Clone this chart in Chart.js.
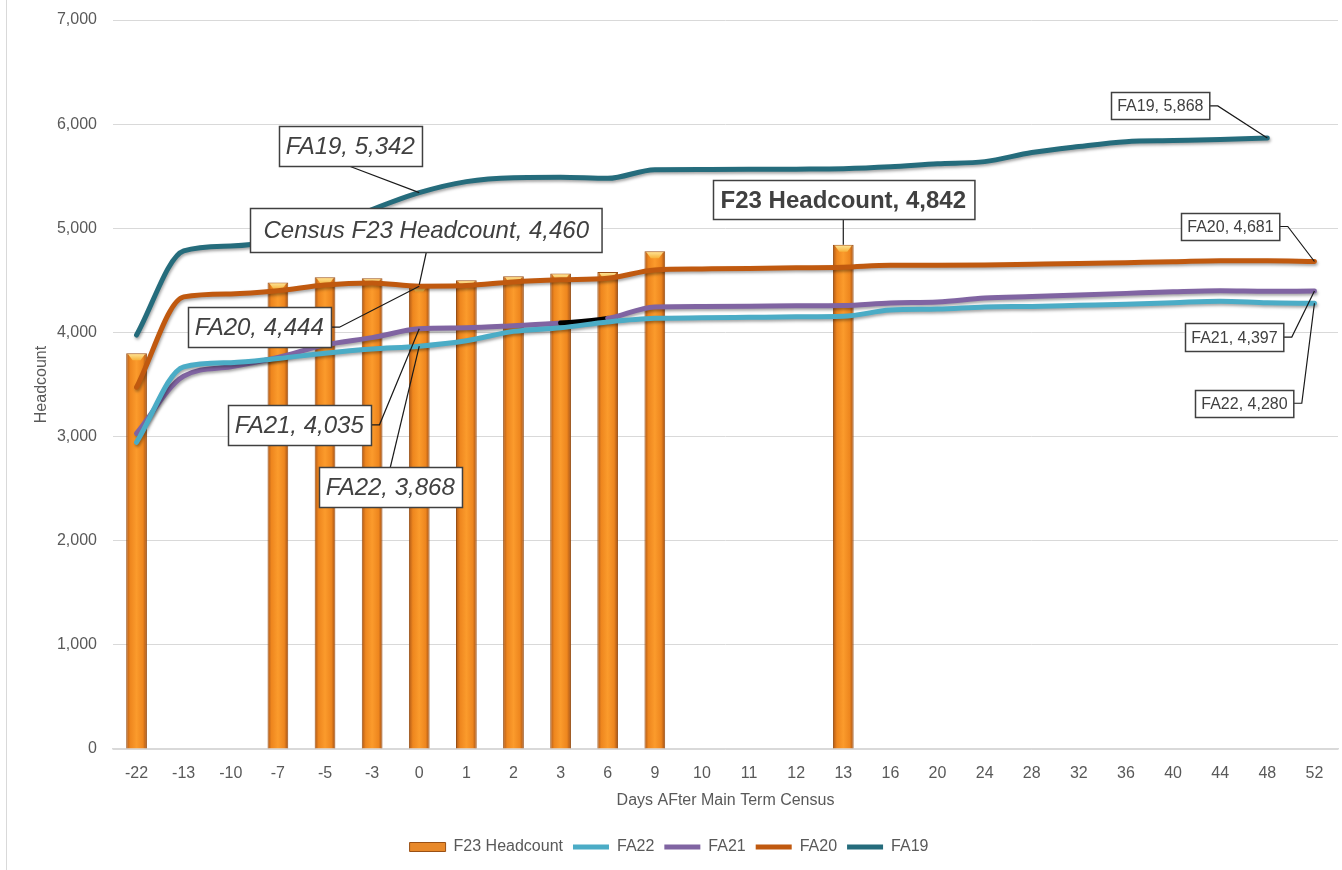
<!DOCTYPE html>
<html><head><meta charset="utf-8">
<script src="https://cdn.jsdelivr.net/npm/chart.js@4.4.0/dist/chart.umd.min.js"></script>
<style>html,body{margin:0;padding:0;background:#fff}canvas{display:block}</style>
</head><body>
<canvas id="c" width="1342" height="870"></canvas>
<script>
// ---------- data ----------
const categories = ['-22','-13','-10','-7','-5','-3','0','1','2','3','6','9','10','11','12','13','16','20','24','28','32','36','40','44','48','52'];
const f23Headcount = [3800,null,null,4480,4530,4520,4460,4500,4540,4565,4580,4780,null,null,null,4842,null,null,null,null,null,null,null,null,null,null];
const fa22 = [2945,3670,3710,3750,3800,3840,3868,3920,4010,4045,4100,4135,4140,4145,4150,4155,4215,4225,4245,4250,4260,4270,4285,4300,4285,4280];
const fa21 = [3030,3580,3670,3760,3880,3950,4035,4045,4065,4090,4135,4245,4250,4252,4255,4258,4283,4292,4330,4345,4360,4375,4390,4400,4395,4397];
const fa20 = [3474,4341,4370,4400,4456,4475,4444,4450,4485,4505,4520,4600,4610,4615,4620,4625,4645,4645,4648,4655,4662,4670,4678,4688,4688,4681];
const fa19 = [3975,4783,4830,4880,4990,5180,5342,5448,5486,5490,5480,5563,5565,5566,5568,5572,5590,5620,5640,5727,5785,5832,5842,5852,5868,null];
const yTickValues = [0,1000,2000,3000,4000,5000,6000,7000];

// ---------- styling ----------
const FONT = "'Liberation Sans', Arial, sans-serif";
const TXT = '#595959';
const COLORS = { FA22:'#4bacc6', FA21:'#8064a2', FA20:'#c0590f', FA19:'#256c7c' };

// callout boxes (offsets relative to the data point)
const callouts = [
  {series:'FA19', cat:'0', dx:-69, dy:-47, font:'italic 24px', h:40, padX:7, leader:'bottom'},
  {series:'F23 Headcount', cat:'0', prefix:'Census ', dx:7, dy:-55, font:'italic 24px', h:44, padX:13, leader:'bottom'},
  {series:'FA20', cat:'0', dx:-160, dy:41, font:'italic 24px', h:40, padX:7, leader:'right'},
  {series:'FA21', cat:'0', dx:-120, dy:96, font:'italic 24px', h:40, padX:7, leader:'right'},
  {series:'FA22', cat:'0', dx:-29, dy:141, font:'italic 24px', h:40, padX:7, leader:'top'},
  {series:'F23 Headcount', cat:'13', dx:0, dy:-45, font:'bold 24px', h:39, padX:8, leader:'bottom'},
  {series:'FA19', cat:'48', dx:-107, dy:-32, font:'16px', h:27, padX:6, leader:'right'},
  {series:'FA20', cat:'52', dx:-84, dy:-35, font:'16px', h:27, padX:6, leader:'right'},
  {series:'FA21', cat:'52', dx:-80, dy:46, font:'16px', h:28, padX:6, leader:'right'},
  {series:'FA22', cat:'52', dx:-70, dy:100, font:'16px', h:27, padX:6, leader:'right'}
];

function barFill(c) {
  const chart = c.chart;
  if (!chart.chartArea || c.type !== 'data') return '#f7941d';
  const cx = chart.scales.x.getPixelForValue(c.dataIndex);
  const g = chart.ctx.createLinearGradient(cx - 10, 0, cx + 10, 0);
  g.addColorStop(0, '#b45c18');
  g.addColorStop(0.18, '#ee861e');
  g.addColorStop(0.5, '#fb9b2c');
  g.addColorStop(0.82, '#ee861e');
  g.addColorStop(1, '#a85416');
  return g;
}

const decorPlugin = {
  id: 'decor',
  beforeDraw(chart) {
    const ctx = chart.ctx;
    ctx.save();
    ctx.strokeStyle = '#d9d9d9';
    ctx.lineWidth = 1;
    ctx.beginPath(); ctx.moveTo(6.5, 0); ctx.lineTo(6.5, 870); ctx.stroke();
    ctx.restore();
  },
  beforeDatasetDraw(chart, args) {
    const ds = chart.data.datasets[args.index];
    const ctx = chart.ctx;
    ctx.save();
    if (ds.type === 'line') {
      ctx.shadowColor = 'rgba(0,0,0,0.35)';
      ctx.shadowBlur = 3; ctx.shadowOffsetX = 1; ctx.shadowOffsetY = 2;
    }
  },
  afterDatasetDraw(chart, args) {
    const ctx = chart.ctx;
    ctx.restore();
    const ds = chart.data.datasets[args.index];
    if (ds.type === 'line') return;
    // light cap on top of each bar
    args.meta.data.forEach((el, i) => {
      if (ds.data[i] == null) return;
      const w = el.width, x = el.x, y = el.y;
      ctx.save();
      const g = ctx.createLinearGradient(0, y, 0, y + 7);
      g.addColorStop(0, '#fde9a0'); g.addColorStop(1, '#f7b23a');
      ctx.fillStyle = g;
      ctx.beginPath();
      ctx.moveTo(x - w/2 + 2, y + 1);
      ctx.lineTo(x + w/2 - 2, y + 1);
      ctx.lineTo(x + 4, y + 7);
      ctx.lineTo(x - 4, y + 7);
      ctx.closePath(); ctx.fill();
      ctx.restore();
    });
  },
  afterDatasetsDraw(chart) {
    const ctx = chart.ctx;
    callouts.forEach(co => {
      const di = chart.data.datasets.findIndex(d => d.label === co.series);
      const idx = categories.indexOf(co.cat);
      const el = chart.getDatasetMeta(di).data[idx];
      const val = chart.data.datasets[di].data[idx];
      const px = el.x, py = el.y;
      const text = (co.prefix || '') + co.series + ', ' + val.toLocaleString('en-US');
      ctx.save();
      ctx.font = co.font + ' ' + FONT;
      const tw = ctx.measureText(text).width;
      const bw = tw + co.padX * 2, bh = co.h;
      const cx = px + co.dx, cy = py + co.dy;
      const l = Math.round(cx - bw/2) + 0.5, t = Math.round(cy - bh/2) + 0.5;
      ctx.strokeStyle = '#1a1a1a';
      ctx.lineWidth = 1.2;
      ctx.beginPath();
      if (co.leader === 'right') {
        ctx.moveTo(l + bw, cy); ctx.lineTo(l + bw + 8, cy); ctx.lineTo(px, py);
      } else if (co.leader === 'bottom') {
        ctx.moveTo(cx, t + bh); ctx.lineTo(px, py);
      } else {
        ctx.moveTo(cx, t); ctx.lineTo(px, py);
      }
      ctx.stroke();
      ctx.fillStyle = '#ffffff';
      ctx.fillRect(l, t, bw, bh);
      ctx.strokeStyle = '#404040';
      ctx.lineWidth = 1.5;
      ctx.strokeRect(l, t, bw, bh);
      ctx.fillStyle = '#404040';
      ctx.textBaseline = 'middle';
      ctx.textAlign = 'center';
      ctx.fillText(text, cx, t + bh/2 + 1);
      ctx.restore();
    });
  }
};

function lineDs(label, data, order) {
  return {
    type: 'line', label, data, order,
    borderColor: COLORS[label], backgroundColor: COLORS[label],
    borderWidth: 5, pointRadius: 0, pointHoverRadius: 0,
    cubicInterpolationMode: 'monotone', borderJoinStyle: 'round', borderCapStyle: 'round', fill: false
  };
}

const fa21Ds = lineDs('FA21', fa21, 2);
fa21Ds.segment = {
  borderColor: ctx => (ctx.p0DataIndex === categories.indexOf('3') ? '#000000' : undefined)
};

new Chart(document.getElementById('c'), {
  type: 'bar',
  data: {
    labels: categories,
    datasets: [
      { type: 'bar', label: 'F23 Headcount', data: f23Headcount, order: 5,
        backgroundColor: barFill, borderColor: '#9a5014', borderWidth: 1,
        categoryPercentage: 1, barPercentage: 0.44 },
      lineDs('FA22', fa22, 1),
      fa21Ds,
      lineDs('FA20', fa20, 3),
      lineDs('FA19', fa19, 4)
    ]
  },
  options: {
    responsive: false,
    animation: false,
    devicePixelRatio: 1,
    layout: { padding: { top: 20, right: 4, bottom: 5, left: 0 } },
    plugins: {
      tooltip: { enabled: false },
      legend: {
        position: 'bottom',
        labels: {
          font: { family: FONT, size: 16 },
          color: TXT,
          usePointStyle: true,
          pointStyleWidth: 36,
          boxHeight: 9,
          padding: 10,
          generateLabels(chart) {
            return chart.data.datasets.map((d, i) => ({
              text: d.label,
              datasetIndex: i,
              hidden: false,
              fontColor: TXT,
              pointStyle: d.type === 'bar' ? 'rect' : 'line',
              fillStyle: d.type === 'bar' ? '#e8892a' : d.borderColor,
              strokeStyle: d.type === 'bar' ? '#9a5014' : d.borderColor,
              lineWidth: d.type === 'bar' ? 1 : 5
            }));
          }
        }
      }
    },
    scales: {
      x: {
        grid: { display: false, drawTicks: false },
        border: { display: true, color: '#d9d9d9', width: 1.5 },
        ticks: { font: { family: FONT, size: 16 }, color: TXT, padding: 15, maxRotation: 0, autoSkip: false },
        title: { display: true, text: 'Days AFter Main Term Census', font: { family: FONT, size: 16 }, color: TXT, padding: { top: 0, bottom: 19 } },
        afterFit(scale) { scale.height = 80; }
      },
      y: {
        min: 0, max: 7000,
        afterBuildTicks(scale) { scale.ticks = yTickValues.map(v => ({ value: v })); },
        grid: { color: '#d9d9d9', lineWidth: 1, drawTicks: false },
        border: { display: false },
        ticks: { font: { family: FONT, size: 16 }, color: TXT, padding: 16,
                 callback: v => Number(v).toLocaleString('en-US') },
        title: { display: true, text: 'Headcount', font: { family: FONT, size: 16 }, color: TXT, padding: { top: 32, bottom: 0 } },
        afterFit(scale) { scale.width = 113; scale.paddingTop = 0; scale.paddingBottom = 0; }
      }
    }
  },
  plugins: [decorPlugin]
});
</script>
</body></html>
